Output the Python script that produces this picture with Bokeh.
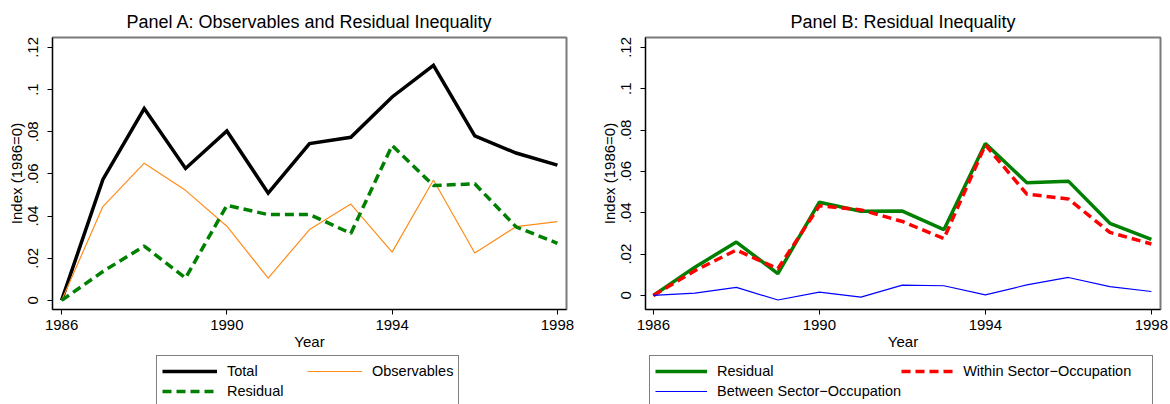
from bokeh.plotting import figure
from bokeh.layouts import row, column
from bokeh.models import Range1d, FixedTicker, Legend, LegendItem
from bokeh.embed import file_html
from bokeh.resources import INLINE

# ---------------- data ----------------
years = [1986, 1987, 1988, 1989, 1990, 1991, 1992, 1993, 1994, 1995, 1996, 1997, 1998]
total = [0.0, 0.0574, 0.0910, 0.0626, 0.0804, 0.0509, 0.0744, 0.0774, 0.0965, 0.1115, 0.0780, 0.0699, 0.0642]
observables = [0.0, 0.0445, 0.0651, 0.0522, 0.0352, 0.0106, 0.0336, 0.0457, 0.0229, 0.0571, 0.0225, 0.0350, 0.0374]
residual = [0.0, 0.0137, 0.0258, 0.0106, 0.0451, 0.0407, 0.0408, 0.0318, 0.0735, 0.0545, 0.0553, 0.0349, 0.0271]
within = [0.0, 0.0120, 0.0220, 0.0129, 0.0434, 0.0414, 0.0358, 0.0275, 0.0728, 0.0490, 0.0467, 0.0305, 0.0249]
between = [0.0, 0.0011, 0.0039, -0.0022, 0.0016, -0.0008, 0.0050, 0.0047, 0.0003, 0.0051, 0.0087, 0.0043, 0.0019]

x_ticks = [1986, 1990, 1994, 1998]
y_ticks = [0, 0.02, 0.04, 0.06, 0.08, 0.1, 0.12]
y_tick_labels = ["0", ".02", ".04", ".06", ".08", ".1", ".12"]

title_a = "Panel A: Observables and Residual Inequality"
title_b = "Panel B: Residual Inequality"
x_label = "Year"
y_label = "Index (1986=0)"
legend_a = ["Total", "Observables", "Residual"]
legend_b = ["Residual", "Within Sector\u2212Occupation", "Between Sector\u2212Occupation"]

FONT = "Liberation Sans"
GREEN = "#008000"
ORANGE = "#ff8c1a"
RED = "#ff0000"
BLUE = "#0000ff"

PLOT_H = 352
LEG_H = 52

STYLE = {
    "total": dict(line_color="black", line_width=3.5),
    "observables": dict(line_color=ORANGE, line_width=1.2),
    "residual_a": dict(line_color=GREEN, line_width=3.5, line_dash="9 5"),
    "residual_b": dict(line_color=GREEN, line_width=3.5),
    "within": dict(line_color=RED, line_width=3.5, line_dash="9 5"),
    "between": dict(line_color=BLUE, line_width=1.2),
}


def make_fig(title, width, x_range, y_range, bl, br):
    p = figure(width=width, height=PLOT_H, output_backend="svg", toolbar_location=None,
               x_range=Range1d(*x_range), y_range=Range1d(*y_range),
               min_border_left=bl, min_border_right=br, min_border_top=37, min_border_bottom=43,
               title=title)
    p.title.text_font = FONT
    p.title.text_font_size = "18px"
    p.title.text_font_style = "normal"
    p.title.align = "center"
    p.title.text_color = "black"
    p.title.standoff = 12
    p.xgrid.visible = False
    p.ygrid.visible = False
    p.outline_line_color = "#7a7a7a"
    p.outline_line_width = 2
    p.background_fill_color = "white"
    p.border_fill_color = "white"

    p.xaxis.ticker = FixedTicker(ticks=x_ticks)
    p.yaxis.ticker = FixedTicker(ticks=y_ticks)
    p.yaxis.major_label_overrides = {t: l for t, l in zip(y_ticks, y_tick_labels)}
    p.yaxis.major_label_orientation = "vertical"
    for ax in (p.xaxis[0], p.yaxis[0]):
        ax.axis_line_color = "black"
        ax.axis_line_width = 1
        ax.major_tick_line_color = "black"
        ax.major_tick_out = 5
        ax.major_tick_in = 0
        ax.minor_tick_out = 0
        ax.minor_tick_in = 0
        ax.major_label_text_font = FONT
        ax.major_label_text_font_size = "15px"
        ax.major_label_text_color = "black"
        ax.axis_label_text_font = FONT
        ax.axis_label_text_font_size = "15px"
        ax.axis_label_text_font_style = "normal"
        ax.axis_label_text_color = "black"
    p.xaxis.major_label_standoff = 5
    p.xaxis.axis_label_standoff = 0
    p.yaxis.major_label_standoff = 9
    p.yaxis.axis_label_standoff = 1
    p.xaxis.axis_label = x_label
    p.yaxis.axis_label = y_label
    return p


def make_legend_fig(width, labels, series, styles, loc_x, glyph_w, label_w):
    # legend strip under each panel; its lines carry the real series but lie outside the view
    lf = figure(width=width, height=LEG_H, output_backend="svg", toolbar_location=None,
                x_range=Range1d(0, 1), y_range=Range1d(0, 1),
                x_axis_type=None, y_axis_type=None,
                min_border_left=0, min_border_right=0, min_border_top=0, min_border_bottom=0)
    lf.outline_line_color = None
    lf.xgrid.visible = False
    lf.ygrid.visible = False
    items = []
    for lab, ys, st in zip(labels, series, styles):
        r = lf.line(years, ys, **st)
        items.append(LegendItem(label=lab, renderers=[r]))
    padding = 5
    leg_h = 2 * padding + 2 * 20
    lg = Legend(items=items, location=(loc_x, LEG_H - 5 - leg_h), orientation="horizontal", ncols=2,
                border_line_color="black", border_line_width=1, background_fill_color="white",
                background_fill_alpha=1.0, glyph_width=glyph_w, glyph_height=20, label_height=20,
                label_width=label_w, label_standoff=10, padding=padding, spacing=0, margin=0,
                label_text_font=FONT, label_text_font_size="14.5px", label_text_color="black")
    lf.add_layout(lg, "center")
    return lf


# ---------------- Panel A ----------------
pa = make_fig(title_a, 594, (1985.78, 1998.22), (-0.0043, 0.1247), 52, 28)
pa.line(years, total, line_join="miter", **STYLE["total"])
pa.line(years, observables, **STYLE["observables"])
pa.line(years, residual, **STYLE["residual_a"])
la = make_legend_fig(594, legend_a, [total, observables, residual],
                     [STYLE["total"], STYLE["observables"], STYLE["residual_a"]], 156, 55, 80)

# ---------------- Panel B ----------------
pb = make_fig(title_b, 576, (1985.81, 1998.22), (-0.0068, 0.1248), 51, 10)
pb.line(years, residual, **STYLE["residual_b"])
pb.line(years, within, **STYLE["within"])
pb.line(years, between, **STYLE["between"])
lb = make_legend_fig(576, legend_b, [residual, within, between],
                     [STYLE["residual_b"], STYLE["within"], STYLE["between"]], 55, 52, 184)

layout = column(row(pa, pb, spacing=0), row(la, lb, spacing=0), spacing=0)
open("out.html", "w").write(file_html(layout, INLINE))
